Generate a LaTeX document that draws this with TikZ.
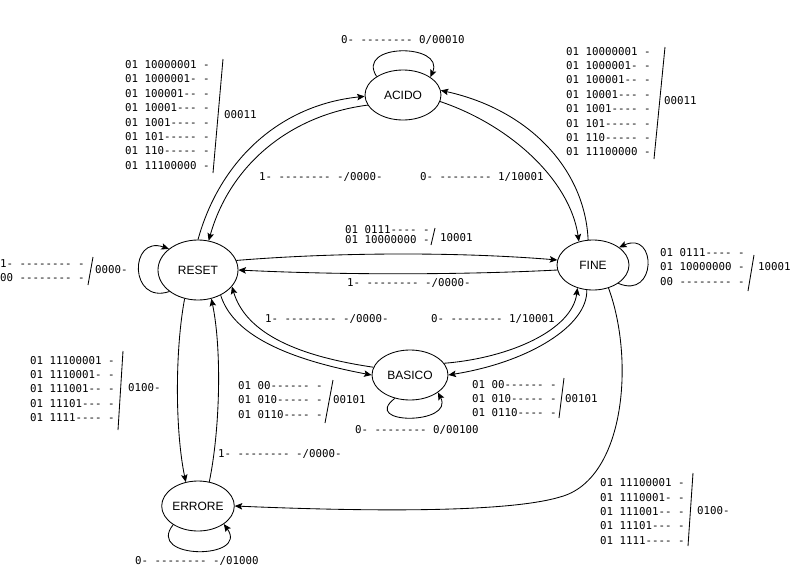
\documentclass[tikz,border=0pt]{standalone}
\usepackage{fontspec}
\setmainfont{Liberation Sans}
\newfontfamily\monofnt{DejaVu Sans Mono}
\usetikzlibrary{shapes.geometric,arrows.meta}
\begin{document}
\begin{tikzpicture}[x=1pt,y=-1pt,
  state/.style={draw, ellipse, line width=0.85pt, inner sep=0pt,
    font=\fontsize{12}{14}\selectfont},
  trans/.style={draw, line width=0.85pt,
    -{Stealth[length=7.5pt,width=6.5pt,inset=1.5pt]}},
  lbl/.style={anchor=west, inner sep=0pt, align=left,
    font=\monofnt\fontsize{10.8}{14.4}\selectfont},
  bar/.style={line width=0.85pt}]
\useasboundingbox (0,0) rectangle (795,581);

% states
\node[state, minimum width=76pt, minimum height=50pt] (acido)  at (403,95)  {ACIDO};
\node[state, minimum width=80pt, minimum height=60pt] (reset)  at (198,270) {RESET};
\node[state, minimum width=72pt, minimum height=50pt] (fine)   at (593,265) {FINE};
\node[state, minimum width=76pt, minimum height=50pt] (basico) at (410,375) {BASICO};
\node[state, minimum width=70pt, minimum height=50pt] (errore) at (198,506) {ERRORE};

% self loops
\draw[trans] (acido.145) .. controls (355,43) and (445,43) .. (acido.33);
\draw[trans] (reset.217) .. controls (129,305) and (129,235) .. (reset.144);
\draw[trans] (fine.324) .. controls (657,300) and (657,230) .. (fine.34);
\draw[trans] (basico.237) .. controls (360,425) and (455,425) .. (basico.328);
\draw[trans] (errore.217) .. controls (145,560) and (250,560) .. (errore.325);

% RESET <-> ACIDO
\draw[trans] (reset.90) .. controls (220,160) and (280,105) .. (acido.182);
\draw[trans] (acido.196) .. controls (290,115) and (230,165) .. (reset.70);
% ACIDO <-> FINE
\draw[trans] (acido.350) .. controls (510,125) and (570,180) .. (fine.121);
\draw[trans] (fine.101) .. controls (585,170) and (530,110) .. (acido.7);
% RESET <-> FINE
\draw[trans] (reset.14) .. controls (340,252) and (460,252) .. (fine.172);
\draw[trans] (fine.188) .. controls (460,275) and (340,275) .. (reset.0);
% RESET <-> BASICO
\draw[trans] (reset.312) .. controls (230,325) and (265,355) .. (basico.180);
\draw[trans] (basico.168) .. controls (290,355) and (245,330) .. (reset.334);
% BASICO <-> FINE
\draw[trans] (basico.19) .. controls (510,358) and (572,330) .. (fine.236);
\draw[trans] (fine.256) .. controls (588,325) and (530,362) .. (basico.0);
% RESET <-> ERRORE
\draw[trans] (reset.245) .. controls (175,350) and (175,430) .. (errore.117);
\draw[trans] (errore.65) .. controls (220,430) and (222,350) .. (reset.295);
% FINE -> ERRORE
\coordinate (bend) at (560,497);
\draw[trans] (fine.304) .. controls (635,360) and (625,480) .. (bend)
  .. controls (500,515) and (330,510) .. (errore.0);

% transition labels
\node[lbl] (l1) at (341,40) {0- -------- 0/00010};

\node[lbl] (l2) at (125,115) {01 10000001 -\\01 1000001- -\\01 100001-- -\\01 10001--- -\\01 1001---- -\\01 101----- -\\01 110----- -\\01 11100000 -};
\draw[bar] (223,59) -- (213,173);
\node[lbl] (l2o) at (224,115) {00011};

\node[lbl] (l3) at (259,177) {1- -------- -/0000-};
\node[lbl] (l4) at (420,177) {0- -------- 1/10001};

\node[lbl] (l5) at (566,101.5) {01 10000001 -\\01 1000001- -\\01 100001-- -\\01 10001--- -\\01 1001---- -\\01 101----- -\\01 110----- -\\01 11100000 -};
\draw[bar] (665,47) -- (654,159);
\node[lbl] (l5o) at (664,101) {00011};

\node[lbl] (l6) at (345,235) {01 0111---- -\\[-4.5pt]01 10000000 -};
\draw[bar] (435,228) -- (431,245);
\node[lbl] (l6o) at (440,238) {10001};

\node[lbl] (l7) at (347,283) {1- -------- -/0000-};

\node[lbl] (l8) at (0,270.5) {1- -------- -\\00 -------- -};
\draw[bar] (93,257) -- (88,285);
\node[lbl] (l8o) at (95,270) {0000-};

\node[lbl] (l9) at (660,267) {01 0111---- -\\01 10000000 -\\00 -------- -};
\draw[bar] (754,255) -- (748,291);
\node[lbl] (l9o) at (758,267) {10001};

\node[lbl] (l10) at (265,319) {1- -------- -/0000-};
\node[lbl] (l11) at (431,319) {0- -------- 1/10001};

\node[lbl] (l12) at (30,389) {01 11100001 -\\01 1110001- -\\01 111001-- -\\01 11101--- -\\01 1111---- -};
\draw[bar] (123,351) -- (118,430);
\node[lbl] (l12o) at (128,388) {0100-};

\node[lbl] (l13) at (238,400) {01 00------ -\\01 010----- -\\01 0110---- -};
\draw[bar] (333,380) -- (325,423);
\node[lbl] (l13o) at (333,400) {00101};

\node[lbl] (l14) at (472,398.5) {01 00------ -\\01 010----- -\\01 0110---- -};
\draw[bar] (564,378) -- (559,418);
\node[lbl] (l14o) at (565,399) {00101};

\node[lbl] (l15) at (355,430) {0- -------- 0/00100};
\node[lbl] (l16) at (218,454) {1- -------- -/0000-};
\node[lbl] (l17) at (135,561) {0- -------- -/01000};

\node[lbl] (l18) at (600,511.5) {01 11100001 -\\01 1110001- -\\01 111001-- -\\01 11101--- -\\01 1111---- -};
\draw[bar] (693,473) -- (688,546);
\node[lbl] (l18o) at (697,511) {0100-};
\end{tikzpicture}
\end{document}
